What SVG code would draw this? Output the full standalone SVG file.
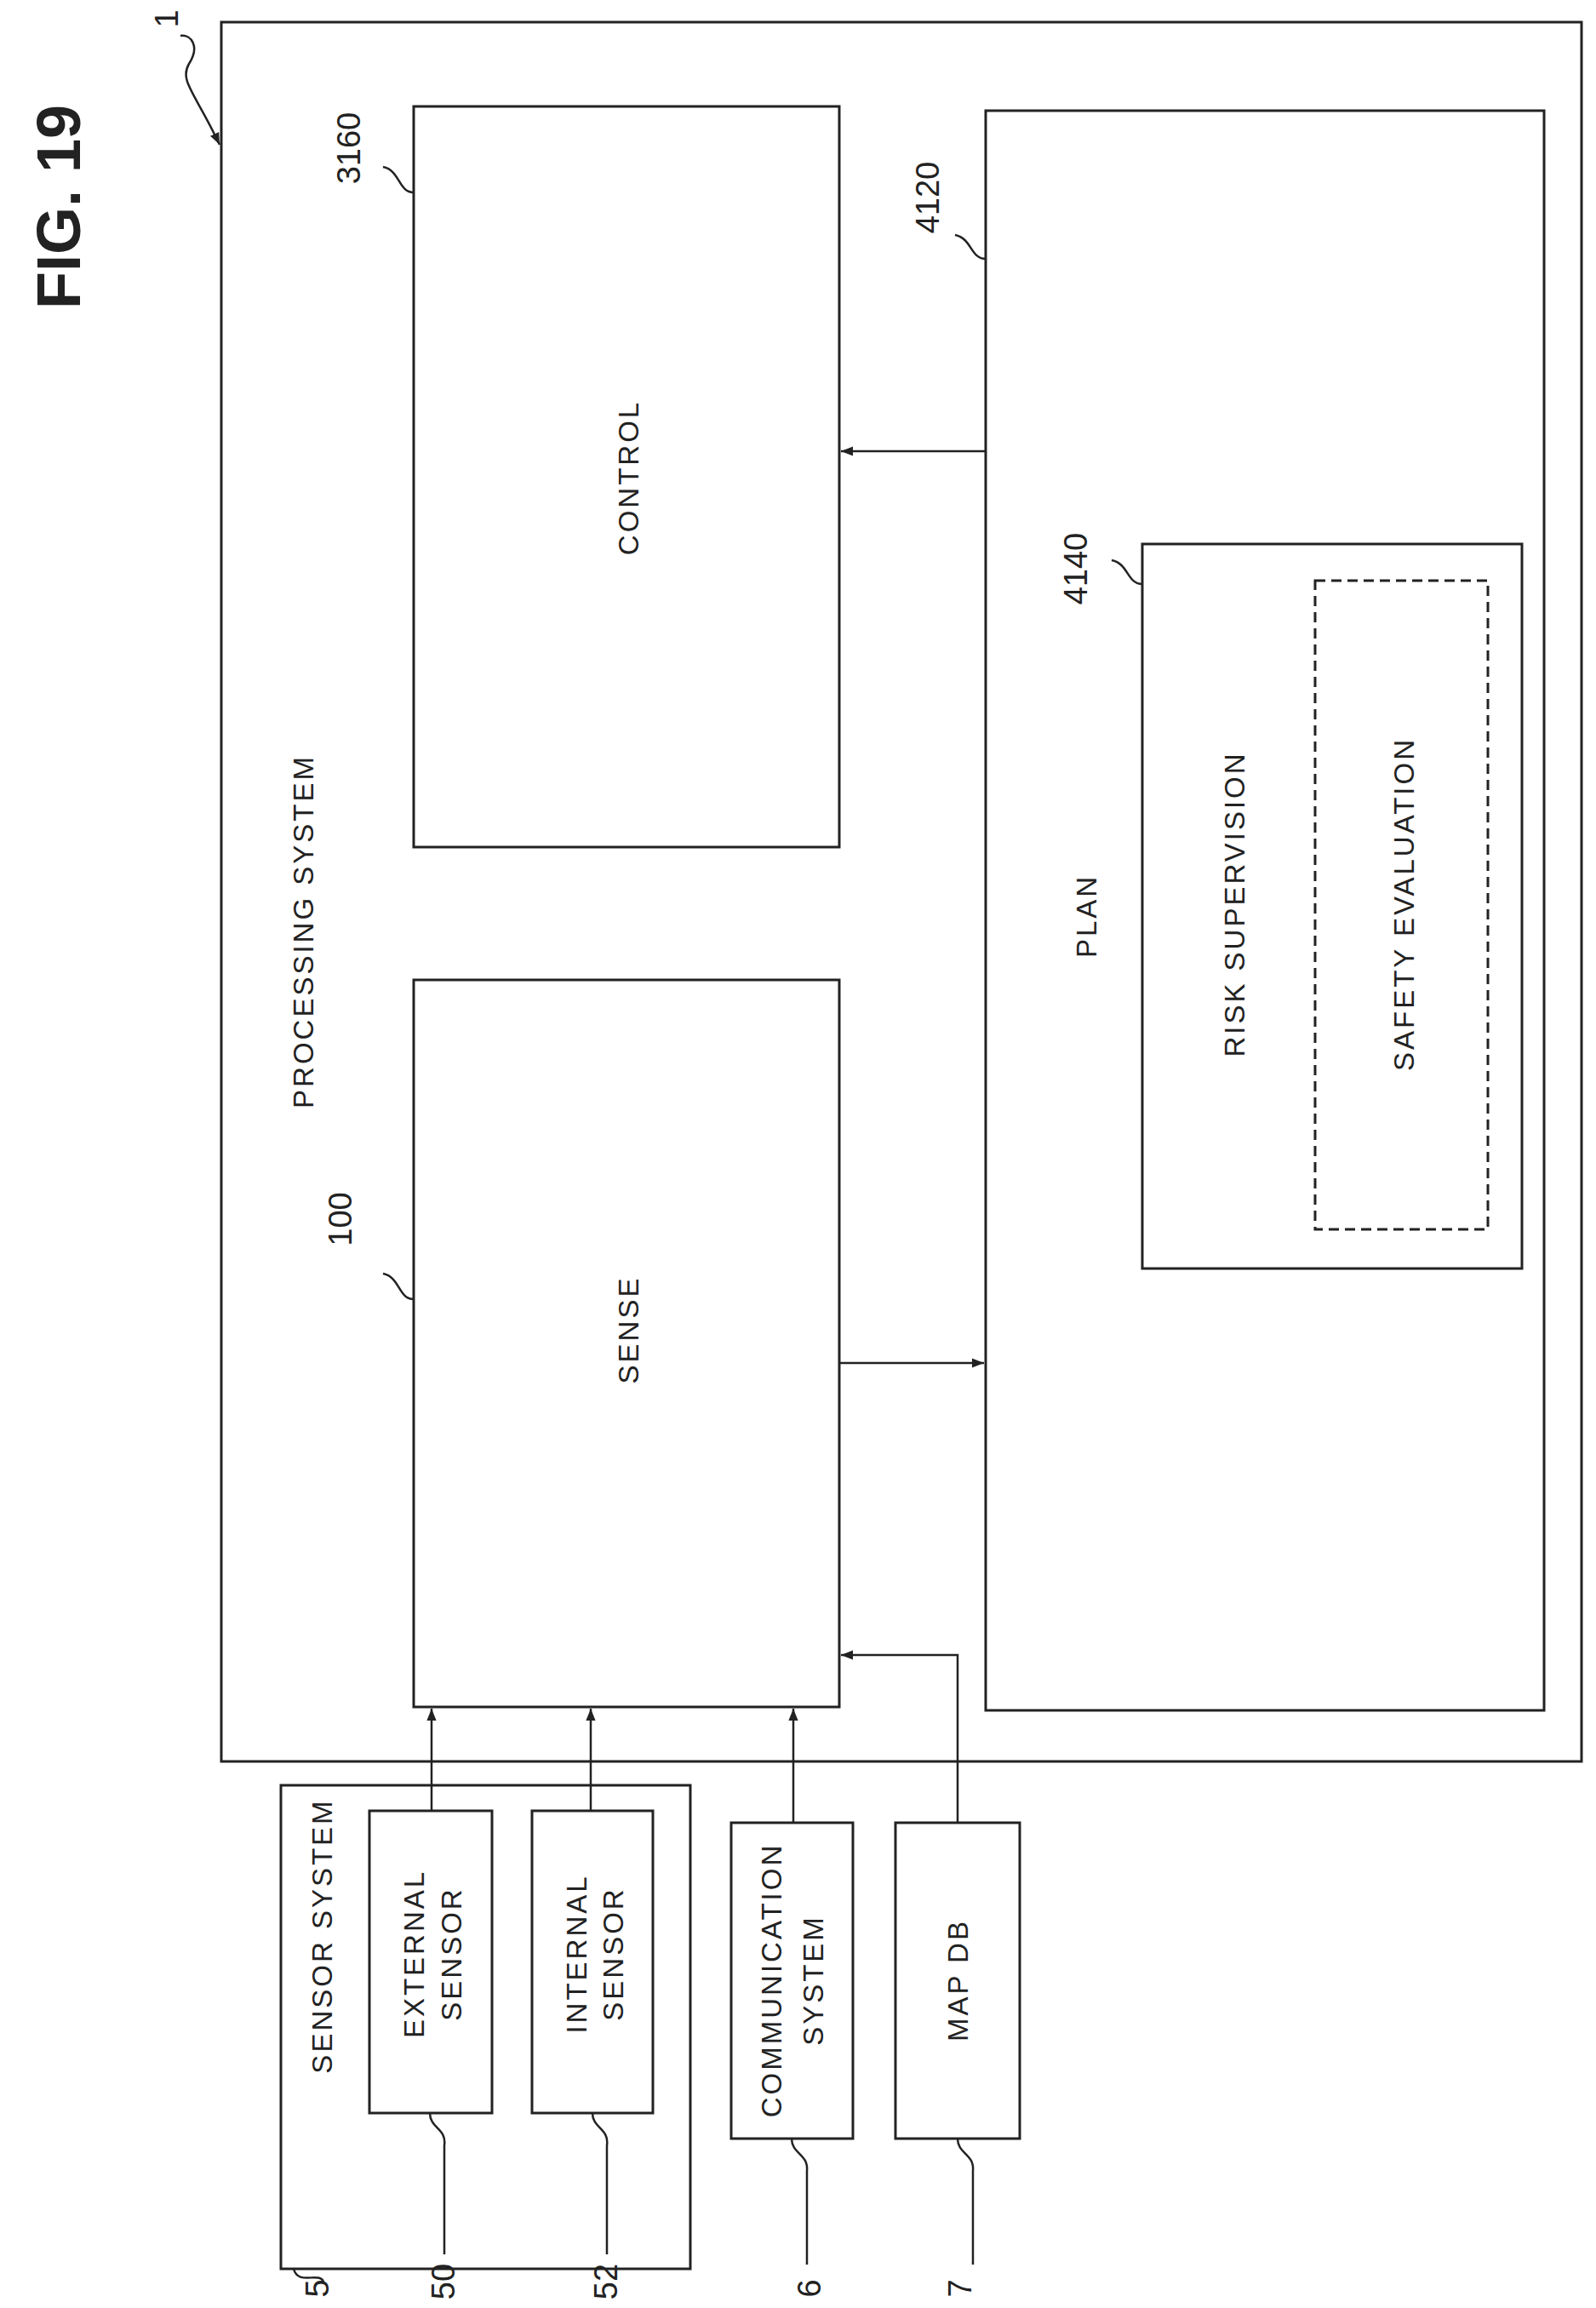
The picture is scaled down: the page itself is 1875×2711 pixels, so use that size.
<svg xmlns="http://www.w3.org/2000/svg" width="1875" height="2711" viewBox="0 0 1875 2711">
<style>
.b{fill:none;stroke:#222;stroke-width:3}
.d{fill:none;stroke:#222;stroke-width:3;stroke-dasharray:12 7}
.l{fill:none;stroke:#222;stroke-width:2.5}
.t{font-family:"Liberation Sans",sans-serif;font-size:33px;fill:#222;text-anchor:middle;dominant-baseline:central;letter-spacing:3px}
.n{font-family:"Liberation Sans",sans-serif;font-size:38px;fill:#222;text-anchor:middle;dominant-baseline:central}
</style>
<defs><marker id="a" viewBox="0 0 10 10" refX="10" refY="5" markerWidth="14" markerHeight="14" orient="auto" markerUnits="userSpaceOnUse"><path d="M0,1 L10,5 L0,9 Z" fill="#222"/></marker></defs>
<text x="69" y="243" transform="rotate(-90 69 243)" style="font-family:'Liberation Sans',sans-serif;font-size:72px;font-weight:bold;fill:#222;text-anchor:middle;dominant-baseline:central">FIG. 19</text>
<g id="system"><rect class="b" x="260" y="26" width="1598" height="2043"/><text class="t" x="356" y="1094" transform="rotate(-90 356 1094)">PROCESSING SYSTEM</text>
<path class="l" d="M212,42 C225,40 235,55 222,75 C210,95 230,110 258,170" marker-end="url(#a)"/><text class="n" x="196" y="22" transform="rotate(-90 196 22)">1</text></g>
<g id="control"><rect class="b" x="486" y="125" width="500" height="870"/><text class="t" x="738" y="561" transform="rotate(-90 738 561)">CONTROL</text><text class="n" x="410" y="174" transform="rotate(-90 410 174)">3160</text><path class="l" d="M486,226 C468,226 470,200 450,196"/></g>
<g id="sense"><rect class="b" x="486" y="1151" width="500" height="854"/><text class="t" x="738" y="1562" transform="rotate(-90 738 1562)">SENSE</text><text class="n" x="400" y="1432" transform="rotate(-90 400 1432)">100</text><path class="l" d="M486,1526 C468,1526 470,1500 450,1496"/></g>
<g id="plan"><rect class="b" x="1158" y="130" width="656" height="1879"/><text class="t" x="1276" y="1076" transform="rotate(-90 1276 1076)">PLAN</text><text class="n" x="1090" y="232" transform="rotate(-90 1090 232)">4120</text><path class="l" d="M1158,304 C1140,304 1142,280 1122,276"/></g>
<g id="risk"><rect class="b" x="1342" y="639" width="446" height="851"/><text class="t" x="1450" y="1062" transform="rotate(-90 1450 1062)">RISK SUPERVISION</text><text class="n" x="1264" y="668" transform="rotate(-90 1264 668)">4140</text><path class="l" d="M1342,686 C1324,686 1326,662 1306,658"/></g>
<g id="safety"><rect class="d" x="1545" y="682" width="203" height="762"/><text class="t" x="1649" y="1062" transform="rotate(-90 1649 1062)">SAFETY EVALUATION</text></g>
<g id="sensor"><rect class="b" x="330" y="2097" width="481" height="568"/><text class="t" x="378" y="2274" transform="rotate(-90 378 2274)">SENSOR SYSTEM</text><path class="l" d="M345,2665 C350,2685 375,2668 380,2680"/><text class="n" x="373" y="2688" transform="rotate(-90 373 2688)">5</text></g>
<g id="ext"><rect class="b" x="434" y="2127" width="144" height="355"/><text class="t" x="486" y="2295" transform="rotate(-90 486 2295)">EXTERNAL</text><text class="t" x="530" y="2295" transform="rotate(-90 530 2295)">SENSOR</text><path class="l" d="M505,2482 C505,2500 525,2500 522,2520 L522,2648"/><text class="n" x="521" y="2680" transform="rotate(-90 521 2680)">50</text></g>
<g id="int"><rect class="b" x="625" y="2127" width="142" height="355"/><text class="t" x="677" y="2295" transform="rotate(-90 677 2295)">INTERNAL</text><text class="t" x="720" y="2295" transform="rotate(-90 720 2295)">SENSOR</text><path class="l" d="M696,2482 C696,2500 716,2500 713,2520 L713,2648"/><text class="n" x="712" y="2680" transform="rotate(-90 712 2680)">52</text></g>
<g id="comm"><rect class="b" x="859" y="2141" width="143" height="371"/><text class="t" x="906" y="2326" transform="rotate(-90 906 2326)">COMMUNICATION</text><text class="t" x="955" y="2326" transform="rotate(-90 955 2326)">SYSTEM</text><path class="l" d="M930,2512 C930,2530 950,2530 948,2550 L948,2660"/><text class="n" x="951" y="2688" transform="rotate(-90 951 2688)">6</text></g>
<g id="map"><rect class="b" x="1052" y="2141" width="146" height="371"/><text class="t" x="1125" y="2326" transform="rotate(-90 1125 2326)">MAP DB</text><path class="l" d="M1125,2512 C1125,2530 1145,2530 1143,2550 L1143,2660"/><text class="n" x="1128" y="2688" transform="rotate(-90 1128 2688)">7</text></g>
<g id="connectors">
<path class="l" d="M1158,530 L988,530" marker-end="url(#a)"/>
<path class="l" d="M986,1601 L1156,1601" marker-end="url(#a)"/>
<path class="l" d="M507,2127 L507,2007" marker-end="url(#a)"/>
<path class="l" d="M694,2127 L694,2007" marker-end="url(#a)"/>
<path class="l" d="M932,2141 L932,2007" marker-end="url(#a)"/>
<path class="l" d="M1125,2141 L1125,1944 L988,1944" marker-end="url(#a)"/>
</g>
</svg>
